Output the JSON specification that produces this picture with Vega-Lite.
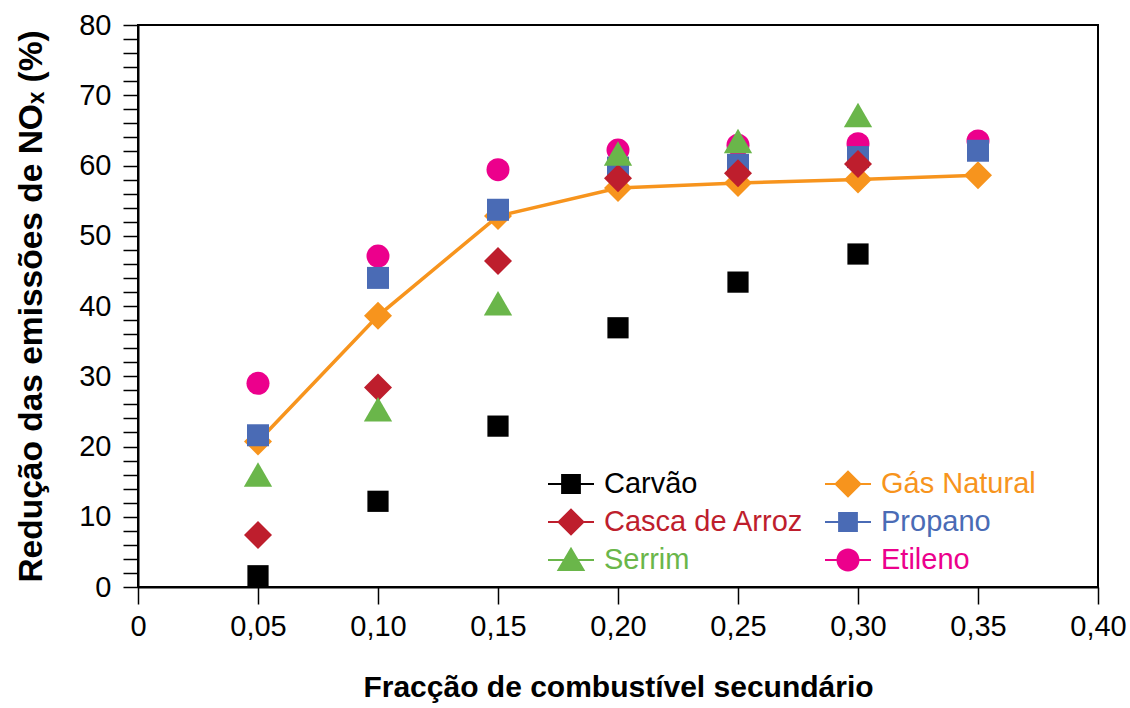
{
  "$schema": "https://vega.github.io/schema/vega-lite/v6.json",
  "width": 960,
  "height": 562,
  "autosize": "none",
  "padding": {"left": 138, "top": 25, "right": 32, "bottom": 121},
  "background": "white",
  "config": {
    "view": {"stroke": "black", "strokeWidth": 2},
    "font": "Liberation Sans",
    "axis": {"grid": false, "domainColor": "black", "domainWidth": 2, "tickColor": "black", "tickWidth": 1.5, "labelColor": "black", "titleColor": "black", "labelFont": "Liberation Sans", "titleFont": "Liberation Sans", "titleFontWeight": "bold"}
  },
  "data": {"values": [
    {"serie": "Etileno", "x": 0.05, "y": 29.0},
    {"serie": "Etileno", "x": 0.10, "y": 47.1},
    {"serie": "Etileno", "x": 0.15, "y": 59.4},
    {"serie": "Etileno", "x": 0.20, "y": 62.2},
    {"serie": "Etileno", "x": 0.25, "y": 62.9},
    {"serie": "Etileno", "x": 0.30, "y": 63.1},
    {"serie": "Etileno", "x": 0.35, "y": 63.5},
    {"serie": "Gás Natural", "x": 0.05, "y": 20.7},
    {"serie": "Gás Natural", "x": 0.10, "y": 38.6},
    {"serie": "Gás Natural", "x": 0.15, "y": 52.8},
    {"serie": "Gás Natural", "x": 0.20, "y": 56.8},
    {"serie": "Gás Natural", "x": 0.25, "y": 57.5},
    {"serie": "Gás Natural", "x": 0.30, "y": 58.0},
    {"serie": "Gás Natural", "x": 0.35, "y": 58.6},
    {"serie": "Propano", "x": 0.05, "y": 21.6},
    {"serie": "Propano", "x": 0.10, "y": 44.0},
    {"serie": "Propano", "x": 0.15, "y": 53.7},
    {"serie": "Propano", "x": 0.20, "y": 59.7},
    {"serie": "Propano", "x": 0.25, "y": 60.1},
    {"serie": "Propano", "x": 0.30, "y": 61.2},
    {"serie": "Propano", "x": 0.35, "y": 62.1},
    {"serie": "Casca de Arroz", "x": 0.05, "y": 7.4},
    {"serie": "Casca de Arroz", "x": 0.10, "y": 28.4},
    {"serie": "Casca de Arroz", "x": 0.15, "y": 46.4},
    {"serie": "Casca de Arroz", "x": 0.20, "y": 58.2},
    {"serie": "Casca de Arroz", "x": 0.25, "y": 58.9},
    {"serie": "Casca de Arroz", "x": 0.30, "y": 60.2},
    {"serie": "Serrim", "x": 0.05, "y": 16.0},
    {"serie": "Serrim", "x": 0.10, "y": 25.3},
    {"serie": "Serrim", "x": 0.15, "y": 40.4},
    {"serie": "Serrim", "x": 0.20, "y": 61.7},
    {"serie": "Serrim", "x": 0.25, "y": 63.5},
    {"serie": "Serrim", "x": 0.30, "y": 67.2},
    {"serie": "Carvão", "x": 0.05, "y": 1.6},
    {"serie": "Carvão", "x": 0.10, "y": 12.2},
    {"serie": "Carvão", "x": 0.15, "y": 22.9},
    {"serie": "Carvão", "x": 0.20, "y": 36.9},
    {"serie": "Carvão", "x": 0.25, "y": 43.4},
    {"serie": "Carvão", "x": 0.30, "y": 47.4}
  ]},
  "encoding": {
    "x": {"field": "x", "type": "quantitative", "scale": {"domain": [0, 0.4], "nice": false, "zero": false},
      "axis": {"orient": "bottom", "title": "Fracção de combustível secundário", "values": [0, 0.05, 0.1, 0.15, 0.2, 0.25, 0.3, 0.35, 0.4],
        "labelExpr": "datum.value === 0 ? '0' : replace(format(datum.value, '.2f'), '.', ',')",
        "tickSize": 17, "labelFontSize": 29, "labelPadding": 8, "titleFontSize": 30, "titlePadding": 31, "labelFlush": false}},
    "y": {"field": "y", "type": "quantitative", "scale": {"domain": [0, 80], "nice": false},
      "axis": {"orient": "left", "title": "Redução das emissões de NOₓ (%)", "values": [0,2,4,6,8,10,12,14,16,18,20,22,24,26,28,30,32,34,36,38,40,42,44,46,48,50,52,54,56,58,60,62,64,66,68,70,72,74,76,78,80],
        "labelExpr": "datum.value % 10 === 0 ? datum.label : ''",
        "tickSize": 15, "labelFontSize": 29, "labelPadding": 12, "titleFontSize": 33.5, "titlePadding": 30, "labelFlush": false}}
  },
  "layer": [
    {
      "transform": [{"filter": "datum.serie === 'Gás Natural'"}],
      "mark": {"type": "line", "color": "#f7941d", "strokeWidth": 3.5}
    },
    {
      "mark": {"type": "point", "filled": true, "opacity": 1, "strokeWidth": 0},
      "encoding": {
        "color": {"field": "serie", "type": "nominal", "legend": null,
          "scale": {"domain": ["Carvão", "Casca de Arroz", "Serrim", "Gás Natural", "Propano", "Etileno"],
                    "range": ["#000000", "#be1e2d", "#6ab64a", "#f7941d", "#4a6bb5", "#ec008c"]}},
        "shape": {"field": "serie", "type": "nominal", "legend": null,
          "scale": {"domain": ["Carvão", "Casca de Arroz", "Serrim", "Gás Natural", "Propano", "Etileno"],
                    "range": ["square", "diamond", "triangle-up", "diamond", "square", "circle"]}},
        "size": {"field": "serie", "type": "nominal", "legend": null,
          "scale": {"type": "ordinal", "domain": ["Carvão", "Casca de Arroz", "Serrim", "Gás Natural", "Propano", "Etileno"],
                    "range": [450, 784, 800, 784, 484, 529]}}
      }
    },
    {
      "transform": [{"filter": "false"}],
      "mark": {"type": "point", "filled": true, "opacity": 1, "strokeWidth": 0},
      "encoding": {
        "color": {"field": "serie", "type": "nominal",
          "scale": {"domain": ["Carvão", "Casca de Arroz", "Serrim", "Gás Natural", "Propano", "Etileno"],
                    "range": ["#000000", "#be1e2d", "#6ab64a", "#f7941d", "#4a6bb5", "#ec008c"]},
          "legend": {"orient": "none", "legendX": 410, "legendY": 436, "columns": 2, "title": null,
            "labelFontSize": 29, "labelFont": "Liberation Sans", "labelLimit": 400, "symbolSize": 2116, "symbolStrokeWidth": 0,
            "labelOffset": 10, "columnPadding": 21, "rowPadding": -23, "padding": 0, "symbolOpacity": 1,
            "labelColor": {"expr": "datum.value === 'Carvão' ? '#000000' : datum.value === 'Casca de Arroz' ? '#be1e2d' : datum.value === 'Serrim' ? '#6ab64a' : datum.value === 'Gás Natural' ? '#f7941d' : datum.value === 'Propano' ? '#4a6bb5' : '#ec008c'"}}},
        "shape": {"field": "serie", "type": "nominal",
          "scale": {"domain": ["Carvão", "Casca de Arroz", "Serrim", "Gás Natural", "Propano", "Etileno"],
                    "range": [
                      "M-1,-0.045H1V0.045H-1ZM-0.43,-0.43H0.43V0.43H-0.43Z",
                      "M-1,-0.045H1V0.045H-1ZM0,-0.6L0.6,0L0,0.6L-0.6,0Z",
                      "M-1,-0.045H1V0.045H-1ZM0,-0.58L0.62,0.48H-0.62Z",
                      "M-1,-0.045H1V0.045H-1ZM0,-0.6L0.6,0L0,0.6L-0.6,0Z",
                      "M-1,-0.045H1V0.045H-1ZM-0.43,-0.43H0.43V0.43H-0.43Z",
                      "M-1,-0.045H1V0.045H-1ZM-0.5,0A0.5,0.5 0 1,1 0.5,0A0.5,0.5 0 1,1 -0.5,0Z"
                    ]}}
      }
    }
  ],
  "resolve": {"scale": {"color": "independent", "shape": "independent", "size": "independent"}, "legend": {"color": "independent", "shape": "independent"}}
}
